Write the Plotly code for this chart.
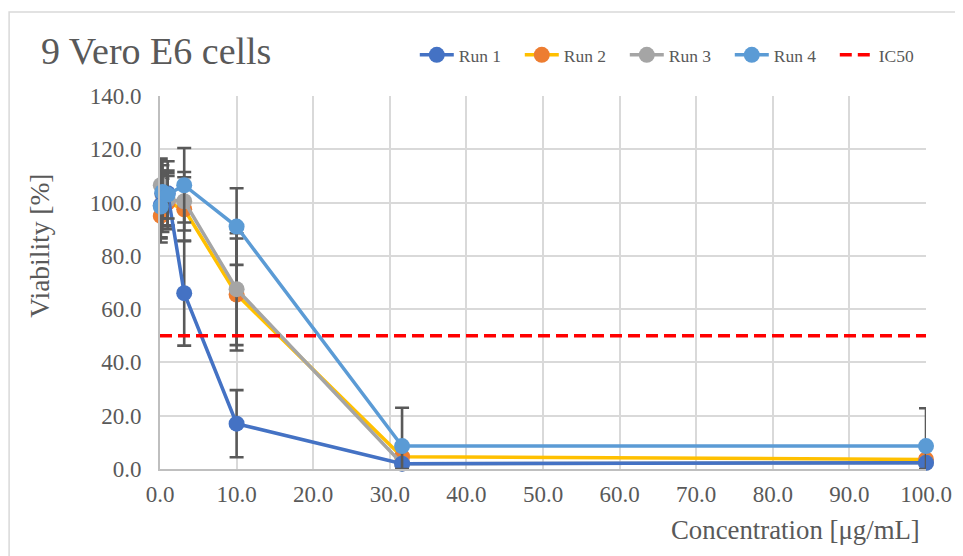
import plotly.graph_objects as go

conc = [0.1, 0.316, 1, 3.16, 10, 31.6, 100]
run1 = [99, 103.5, 103.5, 66, 17, 2.0, 2.3]
run2 = [95, 99, 100, 97.5, 65.5, 4.6, 3.6]
run3 = [106.5, 103, 101, 100.5, 67.5, 2.0, 2.3]
run4 = [98.5, 104, 103, 106.5, 91, 8.6, 8.6]
err1 = [12, 12, 12, 19.7, 12.6, 0.5, 0.5]
err2 = [10, 10, 10, 12, 21, 1, 1]
err3 = [10, 9, 10, 11, 21, 1, 1]
err4 = [12, 10, 9, 14, 14.4, 14.4, 14.2]
ic50_x = [0, 100]
ic50_y = [50, 50]

# (values, errors, line colour, marker colour, legend rank)
series = {
    "Run 1": (run1, err1, "#4472C4", "#4472C4", 1),
    "Run 2": (run2, err2, "#FFC000", "#ED7D31", 2),
    "Run 3": (run3, err3, "#A5A5A5", "#A5A5A5", 3),
    "Run 4": (run4, err4, "#5B9BD5", "#5B9BD5", 4),
}
draw_order = ["Run 2", "Run 3", "Run 1", "Run 4"]

FONT = "Liberation Serif"
TXT = "#595959"

fig = go.Figure()
for name in draw_order:
    ys, es, lc, mc, rank = series[name]
    minus = [min(e, y) for e, y in zip(es, ys)]
    fig.add_trace(go.Scatter(
        x=conc, y=ys, name=name, mode="lines+markers", legendrank=rank,
        line=dict(color=lc, width=3.5),
        marker=dict(color=mc, size=16),
        error_y=dict(type="data", symmetric=False, array=es, arrayminus=minus,
                     color="#595959", thickness=2.6, width=7),
        cliponaxis=False,
    ))

fig.add_trace(go.Scatter(
    x=ic50_x, y=ic50_y, name="IC50", mode="lines", legendrank=5,
    line=dict(color="#FF0000", width=3.5, dash="12px,6px"),
))

# page body has an 8px margin, so the figure is offset by 8px
fig.update_layout(
    width=955, height=548,
    margin=dict(l=152, r=37, t=88, b=87, autoexpand=False),
    paper_bgcolor="white", plot_bgcolor="white",
    font=dict(family=FONT, color=TXT),
    showlegend=True,
    legend=dict(orientation="h", x=1.018, y=1.11, xanchor="right", yanchor="middle",
                font=dict(size=17.5, color=TXT, family=FONT),
                entrywidth=56, entrywidthmode="pixels", itemwidth=34,
                bgcolor="rgba(0,0,0,0)"),
)
fig.update_xaxes(range=[0, 100], dtick=10, tickformat=".1f", automargin=False,
                 showgrid=True, gridcolor="#D9D9D9", gridwidth=1.5,
                 showline=True, linecolor="#BFBFBF", linewidth=2,
                 zeroline=False, tickfont=dict(size=23, color=TXT, family=FONT),
                 ticklabelstandoff=3)
fig.update_yaxes(range=[0, 140], dtick=20, tickformat=".1f", automargin=False,
                 showgrid=True, gridcolor="#D9D9D9", gridwidth=1.5,
                 showline=True, linecolor="#BFBFBF", linewidth=2,
                 zeroline=False, tickfont=dict(size=23, color=TXT, family=FONT),
                 ticklabelstandoff=12)

fig.add_annotation(text="9 Vero E6 cells", xref="paper", yref="paper",
                   x=-0.1585, y=1.1206, xanchor="left", yanchor="middle",
                   showarrow=False, font=dict(size=38, color=TXT, family=FONT))
fig.add_annotation(text="Viability [%]", xref="paper", yref="paper",
                   x=-0.157, y=0.598, xanchor="center", yanchor="middle", textangle=-90,
                   showarrow=False, font=dict(size=27.5, color=TXT, family=FONT))
fig.add_annotation(text="Concentration [μg/mL]", xref="paper", yref="paper",
                   x=0.995, y=-0.1635, xanchor="right", yanchor="middle",
                   showarrow=False, font=dict(size=26.8, color=TXT, family=FONT))

fig.add_shape(type="rect", xref="paper", yref="paper",
              x0=-0.197, x1=1.0405, y0=-0.24, y1=1.2252,
              line=dict(color="#D9D9D9", width=1.5), layer="below")

fig.write_html("out.html")
